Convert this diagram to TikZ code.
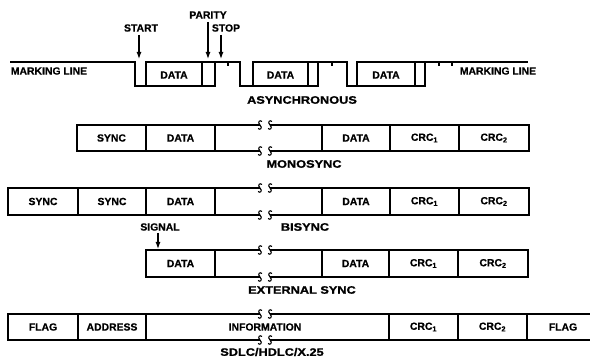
\documentclass[tikz,border=0pt]{standalone}
\usepackage{fontspec}
\setmainfont{Liberation Sans}
\newfontfamily\lblfont[FakeStretch=1.18,FakeBold=1.2]{Liberation Sans Bold}
\newfontfamily\fldfont[FakeBold=0.6]{Liberation Sans Bold}
\usetikzlibrary{arrows.meta}
\begin{document}
\begin{tikzpicture}[x=1pt,y=-1pt,
  wire/.style={line width=1.6pt},
  tick/.style={line width=1.1pt},
  brkline/.style={line width=1.1pt},
  fld/.style={font=\fldfont\fontsize{10.4}{12}\selectfont, inner sep=0pt},
  lbl/.style={font=\lblfont\fontsize{10.8}{13}\selectfont, inner sep=0pt},
  sml/.style={font=\fldfont\fontsize{10.4}{12}\selectfont, inner sep=0pt},
  arr/.style={line width=1.2pt, -{Latex[length=7pt,width=5pt]}}]
\useasboundingbox (0,0) rectangle (590,358);

% ---------- ASYNCHRONOUS ----------
\draw[wire] (10,62) -- (135,62) -- (135,86) -- (146,86);
\draw[wire] (146,62) rectangle (202,86);
\draw[wire] (202,62) rectangle (215,86);
\draw[wire] (215,62) -- (240,62) -- (240,86) -- (253,86);
\draw[wire] (253,62) rectangle (308,86);
\draw[wire] (308,62) rectangle (318,86);
\draw[wire] (318,62) -- (347,62) -- (347,86) -- (357,86);
\draw[wire] (357,62) rectangle (415,86);
\draw[wire] (415,62) rectangle (425,86);
\draw[wire] (425,62) -- (528,62);
\foreach \x in {228,332,439,452} \draw[tick] (\x,62) -- (\x,66);

\node[sml] (ml1) at (49,71) {MARKING LINE};
\node[sml] (ml2) at (498,71) {MARKING LINE};
\node[fld] (ad1) at (174,75) {DATA};
\node[fld] (ad2) at (280.5,75) {DATA};
\node[fld] (ad3) at (386,75) {DATA};
\node[lbl] (async) at (302,100) {ASYNCHRONOUS};

\node[sml] (start) at (141,28) {START};
\node[sml] (parity) at (208,15) {PARITY};
\node[sml] (stop) at (226,28) {STOP};
\coordinate (startp) at (139,59);
\coordinate (parp) at (208,59);
\coordinate (stopp) at (221,59);
\draw[arr] (start.south -| startp) ++(0,3) -- (startp);
\draw[arr] (parity.south -| parp) ++(0,3) -- (parp);
\draw[arr] (stop.south -| stopp) ++(0,3) -- (stopp);

% ---------- MONOSYNC ----------
\draw[wire] (260,125) -- (77,125) -- (77,151) -- (260,151);
\draw[wire] (270,125) -- (529,125) -- (529,151) -- (270,151);
\foreach \x in {146,215,322,390,459} \draw[wire] (\x,125) -- (\x,151);
\node[fld] (m1) at (111.5,138) {SYNC};
\node[fld] (m2) at (180.5,138) {DATA};
\node[fld] (m3) at (356,138) {DATA};
\node[fld] (m4) at (424.5,138) {CRC\textsubscript{1}};
\node[fld] (m5) at (494,138) {CRC\textsubscript{2}};
\node[lbl] (mono) at (304,164) {MONOSYNC};

% ---------- BISYNC ----------
\draw[wire] (260,188) -- (8,188) -- (8,215) -- (260,215);
\draw[wire] (270,188) -- (529,188) -- (529,215) -- (270,215);
\foreach \x in {78,146,215,322,390,459} \draw[wire] (\x,188) -- (\x,215);
\node[fld] (b1) at (43,201.5) {SYNC};
\node[fld] (b2) at (112,201.5) {SYNC};
\node[fld] (b3) at (180.5,201.5) {DATA};
\node[fld] (b4) at (356,201.5) {DATA};
\node[fld] (b5) at (424.5,201.5) {CRC\textsubscript{1}};
\node[fld] (b6) at (494,201.5) {CRC\textsubscript{2}};
\node[lbl] (bisync) at (305,227) {BISYNC};

% ---------- EXTERNAL SYNC ----------
\draw[wire] (260,250) -- (146,250) -- (146,277) -- (260,277);
\draw[wire] (270,250) -- (528,250) -- (528,277) -- (270,277);
\foreach \x in {215,322,389,458} \draw[wire] (\x,250) -- (\x,277);
\node[fld] (e1) at (180.5,263.5) {DATA};
\node[fld] (e2) at (355.5,263.5) {DATA};
\node[fld] (e3) at (423.5,263.5) {CRC\textsubscript{1}};
\node[fld] (e4) at (493,263.5) {CRC\textsubscript{2}};
\node[lbl] (ext) at (302,290) {EXTERNAL SYNC};
\node[sml] (signal) at (160,227) {SIGNAL};
\coordinate (sigp) at (158,249);
\draw[arr] (signal.south -| sigp) ++(0,2) -- (sigp);

% ---------- SDLC/HDLC/X.25 ----------
\draw[wire] (260,314) -- (8,314) -- (8,340) -- (260,340);
\draw[wire] (270,314) -- (591,314);
\draw[wire] (270,340) -- (591,340);
\foreach \x in {78,146,389,458,527} \draw[wire] (\x,314) -- (\x,340);
\node[fld] (s1) at (43,327) {FLAG};
\node[fld] (s2) at (112,327) {ADDRESS};
\node[fld] (s3) at (265,327) {INFORMATION};
\node[fld] (s4) at (423.5,327) {CRC\textsubscript{1}};
\node[fld] (s5) at (492.5,327) {CRC\textsubscript{2}};
\node[fld] (s6) at (563,327) {FLAG};
\node[lbl] (sdlc) at (272,352) {SDLC/HDLC/X.25};

% ---------- break marks ----------
\foreach \y in {125,151,188,215,250,277,314,340}
  \foreach \x in {260,270}
    \draw[brkline] ({\x+2},{\y-3.5}) .. controls ({\x},{\y-5.5}) and ({\x-3},{\y-3}) .. (\x,\y)
       .. controls ({\x+3},{\y+3}) and ({\x},{\y+5.5}) .. ({\x-2},{\y+3.5});
\end{tikzpicture}
\end{document}
